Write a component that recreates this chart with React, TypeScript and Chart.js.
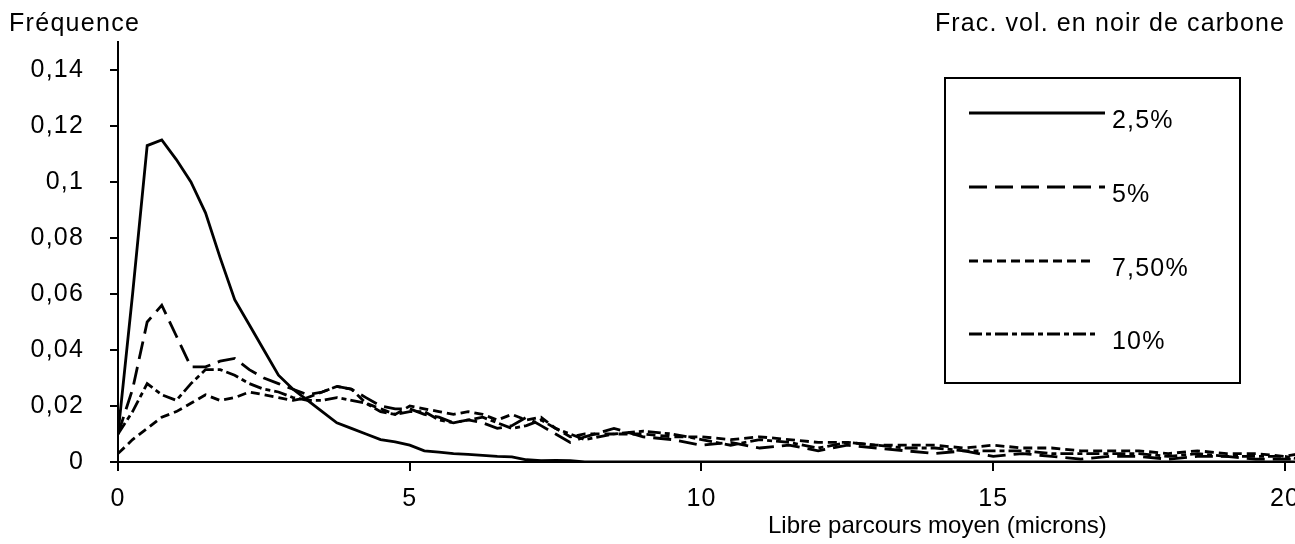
import React, { useEffect, useRef } from "react";
import { Chart, registerables } from "chart.js";

Chart.register(...registerables);

// Mean free path (microns)
const X = [0, 0.25, 0.5, 0.75, 1, 1.25, 1.5, 1.75, 2, 2.25, 2.5, 2.75, 3, 3.25, 3.5, 3.75, 4, 4.25, 4.5, 4.75, 5, 5.25, 5.5, 5.75, 6, 6.25, 6.5, 6.75, 7, 7.25, 7.5, 7.75, 8, 8.5, 9, 9.5, 10, 10.5, 11, 11.5, 12, 12.5, 13, 13.5, 14, 14.5, 15, 15.5, 16, 16.5, 17, 17.5, 18, 18.5, 19, 19.5, 20, 20.25];

const S25 = [0.01, 0.06, 0.113, 0.115, 0.108, 0.1, 0.089, 0.073, 0.058, 0.049, 0.04, 0.031, 0.026, 0.022, 0.018, 0.014, 0.012, 0.01, 0.008, 0.0072, 0.006, 0.004, 0.0035, 0.003, 0.0027, 0.0024, 0.002, 0.0018, 0.0008, 0.0005, 0.0006, 0.0005, 0, 0, 0, 0, 0, 0, 0, 0, 0, 0, 0, 0, 0, 0, 0, 0, 0, 0, 0, 0, 0, 0, 0, 0, 0, 0];

const S5 = [0.01, 0.026, 0.05, 0.056, 0.045, 0.034, 0.034, 0.036, 0.037, 0.033, 0.03, 0.028, 0.026, 0.024, 0.025, 0.027, 0.026, 0.023, 0.02, 0.019, 0.019, 0.017, 0.016, 0.014, 0.015, 0.014, 0.012, 0.013, 0.016, 0.013, 0.01, 0.007, 0.009, 0.012, 0.009, 0.008, 0.006, 0.007, 0.005, 0.006, 0.004, 0.006, 0.005, 0.004, 0.003, 0.004, 0.002, 0.003, 0.002, 0.001, 0.002, 0.002, 0.001, 0.002, 0.002, 0.001, 0.001, 0.001];

const S75 = [0.003, 0.008, 0.012, 0.016, 0.018, 0.021, 0.024, 0.022, 0.023, 0.025, 0.024, 0.023, 0.022, 0.023, 0.025, 0.027, 0.026, 0.021, 0.019, 0.017, 0.02, 0.019, 0.018, 0.017, 0.018, 0.017, 0.015, 0.017, 0.015, 0.016, 0.012, 0.009, 0.01, 0.01, 0.01, 0.009, 0.009, 0.008, 0.009, 0.008, 0.007, 0.007, 0.006, 0.006, 0.006, 0.005, 0.006, 0.005, 0.005, 0.004, 0.004, 0.004, 0.003, 0.004, 0.003, 0.003, 0.002, 0.003];

const S10 = [0.01, 0.018, 0.028, 0.024, 0.022, 0.028, 0.033, 0.033, 0.031, 0.028, 0.026, 0.025, 0.023, 0.022, 0.022, 0.023, 0.022, 0.021, 0.018, 0.017, 0.018, 0.018, 0.015, 0.014, 0.015, 0.016, 0.014, 0.012, 0.013, 0.015, 0.012, 0.01, 0.008, 0.01, 0.011, 0.01, 0.008, 0.006, 0.008, 0.007, 0.005, 0.007, 0.006, 0.005, 0.005, 0.004, 0.004, 0.004, 0.003, 0.003, 0.003, 0.003, 0.002, 0.003, 0.002, 0.002, 0.002, 0.001];

const SERIES_LABELS = ["2,5%", "5%", "7,50%", "10%"];
const Y_TICKS = [0, 0.02, 0.04, 0.06, 0.08, 0.1, 0.12, 0.14];
const X_TICKS = [0, 5, 10, 15, 20];

const Y_TITLE = "Fréquence";
const X_TITLE = "Libre parcours moyen (microns)";
const LEGEND_TITLE = "Frac. vol. en noir de carbone";

const FONT = "'Liberation Sans', Arial, Helvetica, sans-serif";
const DASHES: number[][] = [[], [18, 8], [9, 5], [13, 4, 5, 4]];

const overlay = {
  id: "overlay",
  beforeUpdate(chart: any) {
    (chart.ctx as any).letterSpacing = "1.2px";
  },
  beforeDraw(chart: any) {
    const ctx = chart.ctx;
    (ctx as any).letterSpacing = "1.2px";
    ctx.save();
    ctx.fillStyle = "#fff";
    ctx.fillRect(0, 0, chart.width, chart.height);
    ctx.restore();
  },
  afterDraw(chart: any) {
    const ctx = chart.ctx;
    ctx.save();
    ctx.fillStyle = "#000";
    ctx.strokeStyle = "#000";
    ctx.font = `25px ${FONT}`;
    ctx.textBaseline = "middle";
    ctx.textAlign = "left";
    (ctx as any).letterSpacing = "1.3px";
    ctx.fillText(Y_TITLE, 9, 24);
    (ctx as any).letterSpacing = "1.1px";
    ctx.fillText(LEGEND_TITLE, 935, 24);
    (ctx as any).letterSpacing = "0px";
    ctx.font = `24px ${FONT}`;
    ctx.fillText(X_TITLE, 768, 526);

    // legend box
    ctx.lineWidth = 2;
    ctx.setLineDash([]);
    ctx.strokeRect(945, 78, 295, 305);
    const rows = [113, 187, 261, 334];
    const ends = [1105, 1105, 1093, 1095];
    ctx.font = `25px ${FONT}`;
    chart.data.datasets.forEach((ds: any, i: number) => {
      ctx.save();
      ctx.lineWidth = 2.8;
      ctx.setLineDash(ds.borderDash || []);
      ctx.beginPath();
      ctx.moveTo(969, rows[i]);
      ctx.lineTo(ends[i], rows[i]);
      ctx.stroke();
      ctx.restore();
      (ctx as any).letterSpacing = "1.2px";
      ctx.fillText(ds.label, 1112, rows[i] + 8);
    });
    ctx.restore();
  },
};

export default function App() {
  const ref = useRef<HTMLCanvasElement | null>(null);

  useEffect(() => {
    if (!ref.current) return;
    const mk = (ys: number[]) => X.map((x, i) => ({ x, y: ys[i] }));
    const all = [S25, S5, S75, S10];
    const chart = new Chart(ref.current, {
      type: "line",
      data: {
        datasets: all.map((ys, i) => ({
          label: SERIES_LABELS[i],
          data: mk(ys),
          borderColor: "#000",
          borderWidth: 2.8,
          borderDash: DASHES[i],
          pointRadius: 0,
          tension: 0,
          fill: false,
        })),
      },
      options: {
        animation: false,
        responsive: false,
        events: [],
        layout: { padding: { top: 42, left: 0, right: 0, bottom: 0 } },
        plugins: {
          legend: { display: false },
          tooltip: { enabled: false },
          title: { display: false },
        },
        scales: {
          x: {
            type: "linear",
            min: 0,
            max: 20.6,
            afterBuildTicks: (s: any) => {
              s.ticks = X_TICKS.map((v) => ({ value: v }));
            },
            afterFit: (s: any) => {
              s.height = 82;
            },
            border: { display: true, color: "#000", width: 2 },
            grid: {
              display: true,
              drawOnChartArea: false,
              drawTicks: true,
              tickLength: 9,
              color: "#000",
              lineWidth: 2,
            },
            ticks: {
              color: "#000",
              font: { family: FONT, size: 25 },
              padding: 13,
              maxRotation: 0,
              autoSkip: false,
              callback: (v: any) => String(v),
            },
          },
          y: {
            type: "linear",
            min: 0,
            max: 0.15,
            afterBuildTicks: (s: any) => {
              s.ticks = Y_TICKS.map((v) => ({ value: v }));
            },
            afterFit: (s: any) => {
              s.width = 118;
            },
            border: { display: true, color: "#000", width: 2 },
            grid: {
              display: true,
              drawOnChartArea: false,
              drawTicks: true,
              tickLength: 8,
              color: "#000",
              lineWidth: 2,
            },
            ticks: {
              color: "#000",
              font: { family: FONT, size: 25 },
              padding: 26,
              autoSkip: false,
              callback: (v: any) =>
                String(Math.round(Number(v) * 100) / 100).replace(".", ","),
            },
          },
        },
      },
      plugins: [overlay],
    });
    return () => chart.destroy();
  }, []);

  return (
    <div
      style={{
        position: "fixed",
        left: 0,
        top: 0,
        width: 1295,
        height: 544,
        overflow: "hidden",
        background: "#fff",
      }}
    >
      <canvas ref={ref} width={1320} height={544} style={{ display: "block" }} />
    </div>
  );
}
